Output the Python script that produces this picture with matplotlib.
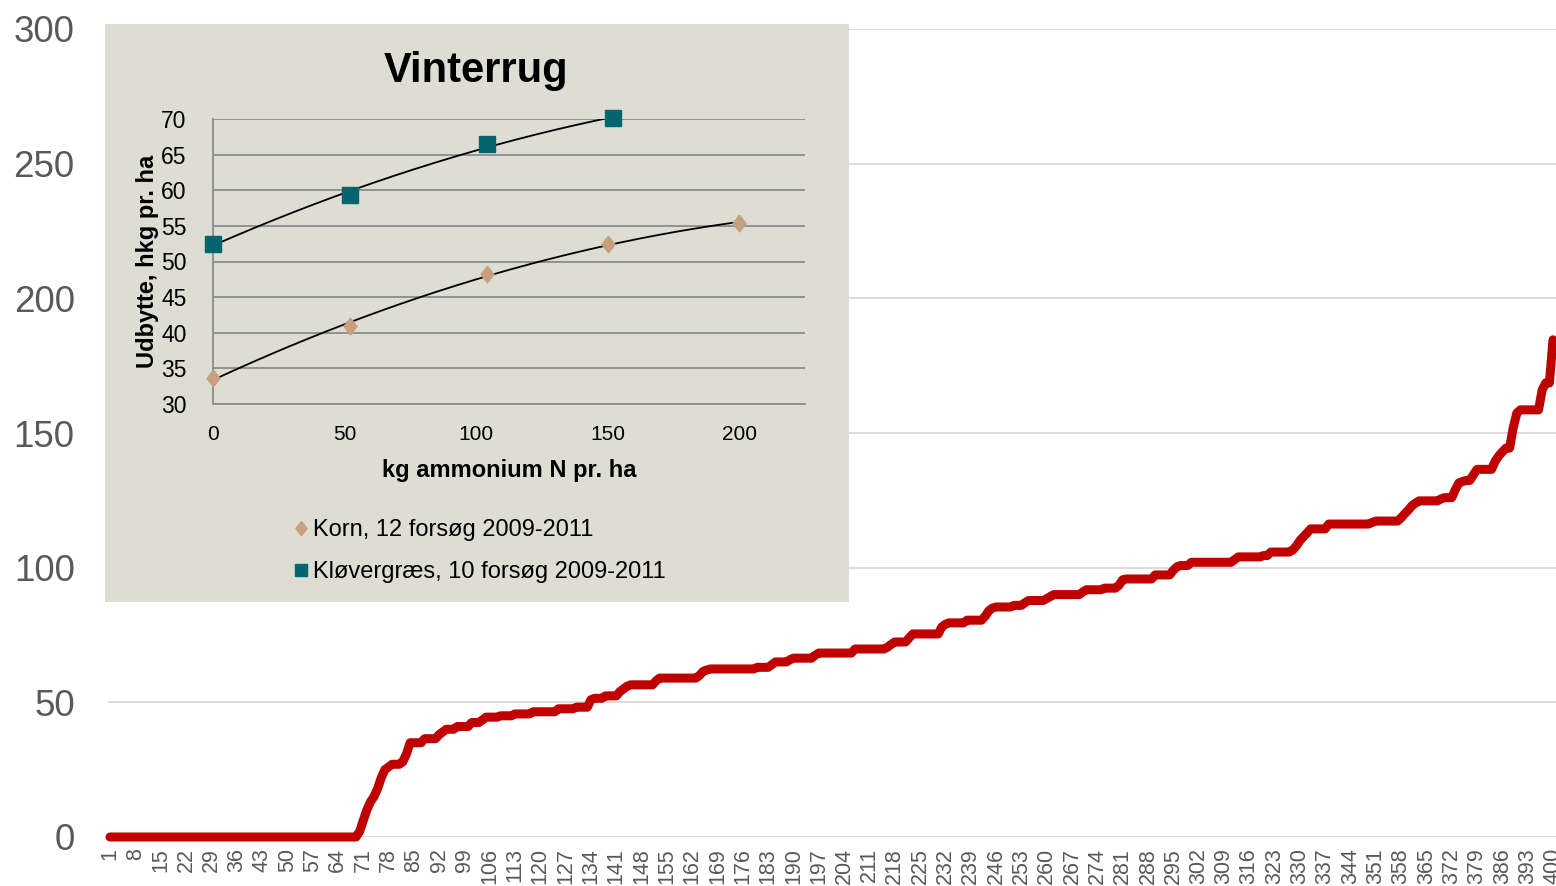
import numpy as np
import matplotlib
matplotlib.use("Agg")
import matplotlib.pyplot as plt
from matplotlib.patches import Rectangle

plt.rcParams['font.family'] = ['Liberation Sans', 'DejaVu Sans']

# ---------------- main chart data (sorted values, categories 1..400) ----------------
values = [
    0, 0, 0, 0, 0, 0, 0, 0, 0, 0, 0, 0, 0, 0, 0, 0, 0,
    0, 0, 0, 0, 0, 0, 0, 0, 0, 0, 0, 0, 0, 0, 0, 0, 0,
    0, 0, 0, 0, 0, 0, 0, 0, 0, 0, 0, 0, 0, 0, 0, 0, 0,
    0, 0, 0, 0, 0, 0, 0, 0, 0, 0, 0, 0, 0, 0, 0, 0, 0, 0,       # 1-69
    2, 6, 10, 13, 15, 18, 22, 25, 26, 27, 27, 27, 28, 31,       # 70-83
    35, 35, 35, 35, 36.5, 36.5, 36.5, 36.5, 38, 39, 40, 40, 40, # 84-96
    41, 41, 41, 41, 42.5, 42.5, 42.5, 43.5,                     # 97-104
    44.5, 44.5, 44.5, 44.5, 45, 45, 45, 45,                     # 105-112
    45.7, 45.7, 45.7, 45.7, 45.7,                               # 113-117
    46.5, 46.5, 46.5, 46.5, 46.5, 46.5, 46.5,                   # 118-124
    47.6, 47.6, 47.6, 47.6, 47.6, 48.2, 48.2, 48.2, 48.2,       # 125-133
    51, 51.5, 51.5, 51.5, 52.4, 52.4, 52.4, 52.4,               # 134-141
    54, 55, 56, 56.5, 56.5, 56.5, 56.5, 56.5, 56.5, 56.5,       # 142-151
    58, 59, 59, 59, 59, 59, 59, 59, 59, 59, 59, 59,             # 152-163
    60, 61.5, 62,                                               # 164-166
    62.4, 62.4, 62.4, 62.4, 62.4, 62.4, 62.4, 62.4, 62.4, 62.4, 62.4, 62.4, 62.4,  # 167-179
    63, 63, 63, 63, 64, 65, 65, 65, 65, 65.8,                   # 180-189
    66.4, 66.4, 66.4, 66.4, 66.4, 66.4, 67.5,                   # 190-196
    68.3, 68.3, 68.3, 68.3, 68.3, 68.3, 68.3, 68.3, 68.3, 68.3, # 197-206
    69.8, 69.8, 69.8, 69.8, 69.8, 69.8, 69.8, 69.8, 69.8,       # 207-215
    70.5, 71.5, 72.4, 72.4, 72.4, 72.4, 74,                     # 216-222
    75.4, 75.4, 75.4, 75.4, 75.4, 75.4, 75.4, 75.4,             # 223-230
    78, 79, 79.5, 79.5, 79.5, 79.5, 79.5,                       # 231-237
    80.5, 80.5, 80.5, 80.5, 80.5, 82, 84, 85,                   # 238-245
    85.4, 85.4, 85.4, 85.4, 85.4, 86, 86, 86, 87,               # 246-254
    87.8, 87.8, 87.8, 87.8, 87.8, 88.5, 89.3,                   # 255-261
    90, 90, 90, 90, 90, 90, 90, 90, 91,                         # 262-270
    91.8, 91.8, 91.8, 91.8, 91.8, 92.4, 92.4, 92.4, 92.4,       # 271-279
    93.5, 95.5, 95.8, 95.8, 95.8, 95.8, 95.8, 95.8, 95.8, 95.8, # 280-289
    97.3, 97.3, 97.3, 97.3, 97.3, 99, 100.3, 100.8, 100.8, 100.8,  # 290-299
    102, 102, 102, 102, 102, 102, 102, 102, 102, 102, 102, 102, # 300-311
    103, 104, 104, 104, 104, 104, 104, 104, 104.5, 104.5,       # 312-321
    105.8, 105.8, 105.8, 105.8, 105.8, 105.8, 106.5, 108,       # 322-329
    110, 111.5, 112.9, 114.4, 114.4, 114.4, 114.4, 114.4,       # 330-337
    116.2, 116.2, 116.2, 116.2, 116.2, 116.2, 116.2, 116.2, 116.2, 116.2, 116.2, 116.2,  # 338-349
    116.8, 117.3, 117.3, 117.3, 117.3, 117.3, 117.3, 117.3,     # 350-357
    118.5, 120, 121.4, 123, 124,                                # 358-362
    124.8, 124.8, 124.8, 124.8, 124.8, 124.8, 125.5, 126, 126, 126,  # 363-372
    129, 131.5, 132, 132.4, 132.4, 134.5,                       # 373-378
    136.5, 136.5, 136.5, 136.5, 136.5, 139.5, 141.5, 143, 144.4, 144.4,  # 379-388
    152, 157.4, 158.6, 158.6, 158.6, 158.6, 158.6, 158.6,       # 389-396
    166, 168.6, 168.6, 184.6,                                   # 397-400
]
categories = list(range(1, len(values) + 1))
tick_categories = categories[::7]
tick_labels = [str(c) for c in tick_categories]
y_ticks = [0, 50, 100, 150, 200, 250, 300]

# ---------------- inset data ----------------
inset_title = "Vinterrug"
korn_n = [0, 52, 104, 150, 200]
korn_yield = [33.6, 40.9, 48.2, 52.5, 55.4]
klover_n = [0, 52, 104, 152]
klover_yield = [52.4, 59.4, 66.5, 70.1]
korn_label = "Korn, 12 forsøg 2009-2011"
klover_label = "Kløvergræs, 10 forsøg 2009-2011"
inset_y_ticks = [30, 35, 40, 45, 50, 55, 60, 65, 70]
inset_x_ticks = [0, 50, 100, 150, 200]

W, H = 1556, 886
fig = plt.figure(figsize=(W / 100, H / 100), dpi=100)

def fx(px):
    return px / W

def fy(py):
    return 1 - py / H

# ---------------- main axes ----------------
ax = fig.add_axes([fx(108), fy(837), fx(1556) - fx(108), fy(29) - fy(837)])
ax.plot(categories, values, color='#C00000', lw=6.5, solid_joinstyle='round',
        solid_capstyle='round', clip_on=False, zorder=3)
ppu = (1553 - 110) / 399.0
x0 = 1 - (110 - 108) / ppu
ax.set_xlim(x0, x0 + (1556 - 108) / ppu)
ax.set_ylim(0, 300)
ax.set_yticks(y_ticks)
ax.set_yticklabels([str(v) for v in y_ticks], fontsize=26.5, color='#595959')
ax.set_xticks(tick_categories)
ax.set_xticklabels(tick_labels, rotation=90, fontsize=15.5, color='#595959')
ax.tick_params(axis='both', length=0)
ax.tick_params(axis='y', pad=24)
ax.tick_params(axis='x', pad=8)
ax.grid(axis='y', color='#D9D9D9', lw=1.3, zorder=0)
ax.set_axisbelow(True)
for s in ax.spines.values():
    s.set_visible(False)

# ---------------- inset panel ----------------
bg = '#DDDDD3'
panel = Rectangle((fx(105), fy(602)), fx(849) - fx(105), fy(24) - fy(602),
                  transform=fig.transFigure, facecolor=bg, edgecolor='none', zorder=5)
fig.patches.append(panel)

fig.text(fx(476), fy(82), inset_title, ha='center', va='baseline',
         fontsize=30, fontweight='bold', color='black', zorder=10)

iax = fig.add_axes([fx(213), fy(404), fx(805) - fx(213), fy(119) - fy(404)])
iax.set_zorder(6)
iax.set_facecolor(bg)
iax.set_xlim(0, 225)
iax.set_ylim(30, 70)
iax.set_yticks(inset_y_ticks)
iax.set_xticks(inset_x_ticks)
iax.tick_params(axis='both', length=0, colors='black')
iax.tick_params(axis='y', pad=19, labelsize=16.5)
iax.tick_params(axis='x', pad=15, labelsize=15)
iax.grid(axis='y', color='#8C8C8C', lw=1.3, zorder=0)
iax.set_axisbelow(True)
for k, s in iax.spines.items():
    s.set_visible(k in ('left', 'bottom'))
    s.set_color('#8C8C8C')
    s.set_linewidth(1.3)

# trendlines (2nd order polynomial fits)
for xs, ys in ((korn_n, korn_yield), (klover_n, klover_yield)):
    c = np.polyfit(xs, ys, 2)
    xx = np.linspace(min(xs), max(xs), 200)
    iax.plot(xx, np.polyval(c, xx), color='black', lw=1.3, zorder=3)

diamond = [(0, 1), (0.78, 0), (0, -1), (-0.78, 0), (0, 1)]
iax.plot(korn_n, korn_yield, ls='none', marker=diamond, ms=12, color='#C8A080',
         mec='#C8A080', label=korn_label, zorder=4, clip_on=False)
iax.plot(klover_n, klover_yield, ls='none', marker='s', ms=11, color='#05656E',
         mec='#05656E', label=klover_label, zorder=4, clip_on=False)

iax.set_ylabel("Udbytte, hkg pr. ha", fontsize=17, fontweight='bold')
iax.yaxis.set_label_coords((159 - 213) / 592, 0.5)
iax.set_xlabel("kg ammonium N pr. ha", fontsize=17, fontweight='bold')
iax.xaxis.set_label_coords(0.5, (404 - 470) / 285)
iax.xaxis.label.set_verticalalignment('center')

leg = iax.legend(loc='center left', bbox_to_anchor=(fx(292), fy(551)),
                 bbox_transform=fig.transFigure, frameon=False, fontsize=17,
                 handlelength=0.75, handletextpad=0.12, borderaxespad=0,
                 borderpad=0, labelspacing=0.85, markerscale=0.85)

fig.savefig("out.png", dpi=100)
